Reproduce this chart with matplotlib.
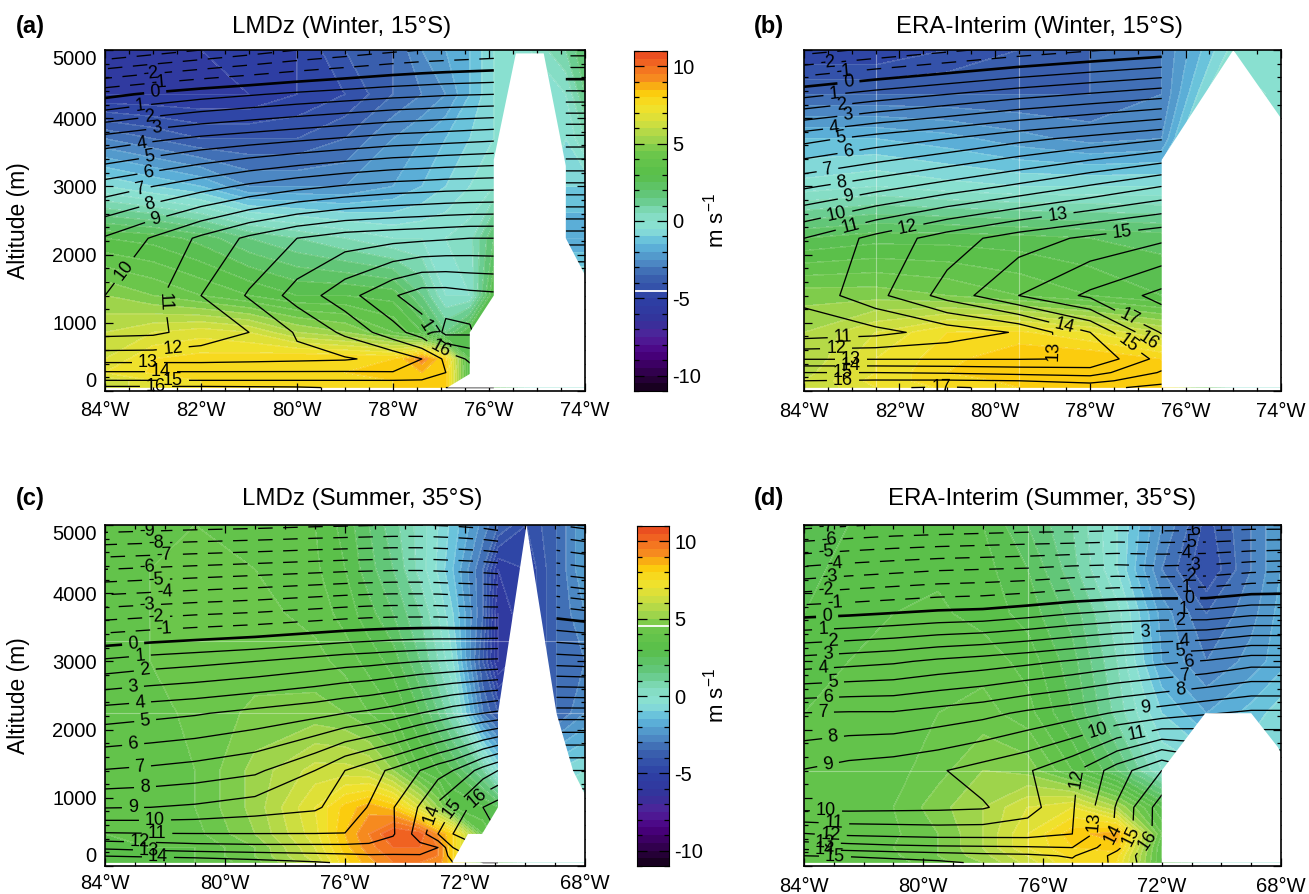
import matplotlib
matplotlib.use('Agg')
import matplotlib.pyplot as plt
from matplotlib.colors import LinearSegmentedColormap
from matplotlib.ticker import MultipleLocator
import numpy as np

plt.rcParams['font.family'] = ['Liberation Sans', 'DejaVu Sans']
plt.rcParams['axes.unicode_minus'] = False
plt.rcParams['mathtext.default'] = 'regular'

W, H = 1309, 894
n = np.nan

# altitude rows shared by all panels (m)
ALT = [50, 150, 270, 470, 860, 1400, 2240, 3000, 3700, 4350, 5000]

# panel (a)
lon_a = [84, 83, 82, 81, 80, 79, 78, 77.4, 76.9, 76.4, 75.9, 75.15, 74.4, 74]
temp_a = [
    [16.2, 16.2, 16.2, 16.15, 16.1, 15.9, 15.7, 15.4, 15, 15, 15, n, 15, 15],
    [15.05, 15.05, 15.05, 15.05, 15.05, 15.05, 15.05, 15.05, 15.3, 15.5, 15.5, n, 15, 15],
    [14.1, 14.1, 14.1, 14.1, 14.1, 14.1, 14.05, 14.6, 15, 15.5, 15.5, n, 16, 16],
    [12.6, 12.6, 12.6, 12.7, 12.8, 12.9, 13.3, 14, 15.2, 16.2, 16.5, n, 16, 16],
    [10.7, 10.8, 11.4, 12, 13.1, 14.2, 15.6, 16.5, 18.3, 18.2, 16.5, n, 17, 17],
    [10, 10.7, 12, 13.1, 14.4, 15.6, 16.9, 17.5, 17.5, 17.3, 17.2, n, 17, 17],
    [9.1, 10.1, 11.2, 12.2, 13, 13.5, 13.7, 13.8, 13.9, 14, 14, n, 13.6, 13.6],
    [6.45, 7, 7.6, 8.2, 8.7, 9.1, 9.4, 9.5, 9.6, 9.65, 9.7, n, 9.3, 9.3],
    [3.35, 3.8, 4.2, 4.5, 4.8, 5.1, 5.4, 5.5, 5.6, 5.7, 5.8, n, 5.3, 5.3],
    [-0.3, 0.2, 0.6, 0.9, 1.2, 1.45, 1.7, 1.8, 1.9, 1.95, 2, n, 1.3, 1.3],
    [-5, -4.5, -4, -3.5, -3, -2.6, -2.2, -2, -1.9, -1.8, -1.7, n, -2.5, -2.5],
]
wind_a = [
    [6, 7, 7.5, 7.7, 7.8, 7.8, 8, 8.2, 8.3, 3, 3, 0, 0, 0],
    [6, 7, 7.5, 7.7, 7.8, 7.8, 8, 8.2, 8.3, 3, 3, 0, 0, 0],
    [7, 7.6, 7.8, 8, 8, 8, 8.1, 8.5, 8.3, 3, 3, 0, 0, 0],
    [6.5, 7.5, 7.7, 7.8, 8, 8, 8, 9.3, 8, 3, 3, 0, 0, 0],
    [6, 6.5, 6.8, 6.5, 5.5, 5, 4, 3, 1.5, 3, 3, 0, 0, 0],
    [5, 4.5, 4, 3.5, 3, 3, 2.8, 1.5, 0, 0, 3, 0, 0, 0],
    [3, 2.8, 2.3, 1.5, 1, 0.5, 0, 0, 0, 0.3, 2, 0, -2, -2],
    [-0.5, -1, -1.5, -2.5, -2.5, -2.5, -2, -1.5, -1, -0.5, 0, 0, -1, -1],
    [-3, -3.5, -4, -4, -4, -3.5, -2.5, -2, -1.5, -1, -0.5, 0, -0.5, 0.5],
    [-5.5, -5.5, -5.5, -5.5, -5, -4.5, -3.5, -3, -2.5, -1.5, -0.5, -0.3, 0, 1.5],
    [-5.5, -5.5, -5.5, -5, -5, -4, -3.5, -2.5, -2, -1.5, -0.5, 0, 1, 2],
]
terrain_lon_a = [76.87, 76.4, 76.4, 75.9, 75.9, 75.44, 74.86, 74.4, 74.4, 74, 74]
terrain_alt_a = [50, 250, 860, 1400, 3390, 4950, 4950, 3300, 2240, 1700, 50]

# panel (b)
lon_b = [84, 82.5, 81, 79.5, 78, 76.5, 75, 74]
temp_b = [
    [16.7, 16.9, 17.1, 16.8, 16.6, 17.4, n, n],
    [16, 16.1, 16.1, 16, 15.7, 16.6, n, n],
    [15, 15, 14.9, 14.7, 14.55, 16.1, n, n],
    [12.95, 12.95, 12.95, 12.95, 13.05, 15.4, n, n],
    [10.4, 10.7, 11.4, 12.1, 14, 17.1, n, n],
    [11.3, 12.7, 14.4, 16, 17.2, 18.3, n, n],
    [11, 12.3, 13.5, 14.5, 15.2, 15.8, n, n],
    [7.85, 8.6, 9.4, 10.2, 11.1, 12, n, n],
    [4.65, 5.4, 6, 6.7, 7.3, 7.9, n, n],
    [0.7, 1.4, 2, 2.6, 3.1, 3.6, n, n],
    [-3.4, -2.8, -2.2, -1.6, -1.1, -0.65, n, n],
]
wind_b = [
    [6, 7, 7.6, 8, 8.2, 8.4, 0, 0],
    [6, 7.2, 7.8, 8.1, 8.2, 8.5, 0, 0],
    [5.8, 7, 8, 8.2, 8.3, 8.5, 0, 0],
    [5.5, 7, 7.8, 8.5, 8.5, 8, 0, 0],
    [5.5, 6.5, 7.5, 7.6, 7, 6, 0, 0],
    [4.8, 4.8, 4.5, 4, 3.5, 3, 0, 0],
    [2.5, 2.8, 2.8, 2.7, 2.5, 2.3, 0, 0],
    [-0.3, 0, -0.3, -0.5, -0.5, -0.5, 3, 0],
    [-1.5, -1.5, -1.8, -2.3, -2.7, -2.5, 3, -0.5],
    [-3.5, -3.5, -3.5, -3.5, -3.5, -3, 1, -0.5],
    [-5, -5, -4.5, -4, -3.5, -3, -0.3, -0.5],
]
terrain_lon_b = [76.5, 76.5, 75, 74, 74]
terrain_alt_b = [50, 3390, 5000, 4000, 50]

# panel (c)
lon_c = [84, 82.5, 81, 79, 77, 76, 75.2, 74.4, 73.5, 72.9, 72.4, 71.4, 70.9, 69.95, 68.95, 68]
temp_c = [
    [15, 14.9, 14.7, 14.4, 14.1, 13.9, 13.8, 13.7, 13.6, 13.5, 14, 15, 15, n, 15, 15],
    [13.95, 13.8, 13.7, 13.5, 13.3, 13.2, 13.1, 13.1, 13.05, 13.05, 14.5, 15.5, 15.5, n, 15, 15],
    [12.8, 12.6, 12.4, 12.3, 12.3, 12.3, 12.4, 12.5, 12.7, 13, 15, 16, 16, n, 15, 15],
    [11.1, 11.05, 11.03, 11.02, 11.02, 11.02, 11.1, 11.9, 13.5, 15, 16, 17, 17, n, 15, 15],
    [8.95, 9, 9.15, 9.5, 9.85, 10.5, 11.05, 11.95, 13.1, 14.25, 15, 17, 17.5, n, 15, 15],
    [7.05, 7.2, 7.4, 7.8, 9, 10, 10.6, 11.2, 12, 12.6, 13, 14.4, 15, n, 13, 13],
    [4.5, 4.7, 4.9, 5.3, 5.7, 6, 6.2, 6.5, 7, 7.3, 7.6, 8, 8.2, n, 8.5, 8.5],
    [1.2, 1.5, 1.7, 2, 2.4, 2.6, 2.7, 2.85, 3, 3.05, 3.1, 3.2, 3.25, n, 3.6, 3.5],
    [-2.5, -2.3, -2.1, -1.9, -1.6, -1.45, -1.35, -1.3, -1.3, -1.3, -1.35, -1.4, -1.4, n, -0.4, -0.7],
    [-6, -5.85, -5.7, -5.5, -5.3, -5.2, -5.15, -5.1, -5.1, -5.15, -5.2, -5.3, -5.4, n, -4.5, -4.8],
    [-9.6, -9.5, -9.4, -9.3, -9.15, -9.1, -9.05, -9, -9, -9.05, -9.1, -9.3, -9.5, n, -8, -8.3],
]
wind_c = [
    [3.5, 3.5, 3.5, 4.3, 6, 7.8, 8.8, 9.5, 9.5, 9.3, 8, 4, 3, 0, 0, 0],
    [3.5, 3.5, 3.5, 4.5, 6.3, 8, 9, 9.7, 9.8, 9.5, 8, 4, 3, 0, 0, 0],
    [3.5, 3.5, 3.5, 4.5, 6.5, 8.3, 9.3, 10, 10, 9.5, 8, 4, 3, 0, 0, 0],
    [3.5, 3.6, 3.8, 5, 6.8, 8.5, 9.5, 10.5, 10.3, 9, 8, 4, 3, 0, 0, 0],
    [3.5, 3.6, 4, 5.2, 7, 8.2, 8.8, 8.3, 6.5, 5, 3.5, 3, 2.5, 0, 0, 0],
    [3.5, 3.6, 4, 5.2, 6.2, 6.2, 6, 5, 3.5, 3, 2.5, 1, -0.5, -1, -1, -0.5],
    [3.5, 3.7, 4.2, 4.6, 4.7, 4.5, 4, 3.5, 2.5, 1.5, 0.5, -3, -4, -4, -3.5, -2.5],
    [3.5, 4, 4.2, 4.3, 4.2, 3.8, 3.3, 2.8, 1.5, 0.5, -0.5, -4, -6, -5, -3.5, -3],
    [3.7, 4, 4.2, 4.2, 3.8, 3.3, 2.7, 2, 1, 0, -1, -3.5, -6, -5, -3.5, -2.5],
    [3.7, 4, 4.2, 4, 3.6, 3, 2.2, 1.5, 0.3, -0.6, -1.5, -3.5, -5.5, -5, -3.5, -2],
    [4, 4, 4, 4, 3.5, 2.8, 2, 1.2, 0.3, -0.5, -1.2, -2.7, -3.5, -4.5, -3.5, -2],
]
terrain_lon_c = [72.43, 71.9, 71.43, 70.9, 70.9, 69.95, 68.95, 68.4, 68, 68]
terrain_alt_c = [50, 470, 470, 860, 2240, 5000, 2240, 1400, 1050, 50]

# panel (d)
lon_d = [84, 82.5, 81, 79.5, 78, 76.5, 75, 73.5, 72, 70.5, 69, 68]
temp_d = [
    [15.8, 15.6, 15.4, 15.2, 14.85, 14.5, 14.2, 15.2, 17, 17, 17, 17],
    [15, 14.9, 14.7, 14.5, 14.3, 14.2, 13.9, 15.3, 17, 17, 17, 17],
    [13.7, 13.5, 13.3, 13.2, 13.15, 13.1, 13, 14.8, 17, 17, 17, 17],
    [12.05, 11.8, 11.7, 11.6, 11.6, 11.6, 12, 14.2, 16.5, 16.5, 16, 16],
    [9.7, 9.7, 9.75, 9.8, 9.9, 10.6, 11.9, 14.1, 16.5, 16, 15, 15],
    [9.05, 9.4, 9.6, 9.9, 10.4, 10.9, 11.8, 13.5, 15, 14, 13, 13],
    [7.03, 7.1, 7.1, 7.4, 7.7, 8.2, 8.6, 9.1, 9.5, 9.9, 10.2, 10.2],
    [3.45, 3.65, 3.85, 4.2, 4.45, 4.75, 5.1, 5.5, 5.8, 6.1, 6.6, 6.6],
    [-0.3, -0.15, 0.05, 0.25, 0.35, 0.65, 1, 1.25, 1.4, 1.4, 1.8, 1.8],
    [-3.75, -3.5, -3.3, -3.1, -3, -2.9, -2.7, -2.6, -2.7, -2.6, -2.3, -2.2],
    [-7.3, -7.1, -6.9, -6.8, -6.7, -6.6, -6.6, -6.5, -6.5, -6.5, -6.4, -6.4],
]
wind_d = [
    [3.5, 3.6, 3.8, 4.3, 5, 6.2, 7.5, 7.5, 3.5, 0, 0, 0],
    [3.5, 3.7, 3.9, 4.5, 5.3, 6.5, 7.7, 7.7, 3.5, 0, 0, 0],
    [3.6, 3.8, 4, 4.5, 5.5, 7, 8, 8.3, 3.5, 0, 0, 0],
    [3.5, 3.6, 3.9, 4.5, 5.5, 7, 8.3, 8.8, 4, 0, 0, 0],
    [3.5, 3.6, 4, 4.8, 5.5, 6.5, 7, 5.5, 3, 0, 0, 0],
    [3.5, 3.6, 3.8, 4.3, 5, 4.8, 3.5, 2, 0, -0.5, -0.5, -0.5],
    [3.5, 3.6, 3.8, 4, 4.2, 3.7, 2.5, 0.8, -1, -2, -1.3, -0.7],
    [3.2, 3.5, 3.7, 3.8, 3.8, 3.3, 2.2, 0.5, -2, -3, -2.3, -1.7],
    [3, 3.3, 3.5, 3.6, 3.3, 2.8, 1.8, 0.2, -2.2, -3.5, -2.7, -1.8],
    [2.8, 3.2, 3.4, 3.4, 3.2, 2.5, 1.2, -0.5, -3, -4.5, -3, -2],
    [3, 3, 3.2, 3.2, 3, 2, 1, -0.5, -2.5, -4.2, -3, -2],
]
terrain_lon_d = [72, 72, 70.54, 69, 68.1, 68, 68]
terrain_alt_d = [50, 1400, 2240, 2240, 1740, 1650, 50]

# colour scale of the wind
wind_levels = np.arange(-11, 11.5, 0.5)
wind_colors = [
    (-11, '#140018'), (-9.5, '#38005a'), (-8.5, '#4b0082'), (-7.5, '#50229a'),
    (-6.5, '#33339a'), (-5, '#2d41a5'), (-3.5, '#3c64af'), (-2.5, '#5091c8'),
    (-1.5, '#5fb9dc'), (-0.5, '#8ce1d7'), (0.5, '#82dcbe'), (1.5, '#64c882'),
    (3, '#58be4a'), (4.5, '#6ec84b'), (5.5, '#aad74b'), (6.5, '#d7e03c'),
    (7.5, '#f5e128'), (8.5, '#fcc808'), (9, '#f7941e'), (10, '#f36e21'),
    (11, '#e84820'),
]
wind_cmap = LinearSegmentedColormap.from_list(
    'wind', [((v + 11) / 22, c) for v, c in wind_colors], N=256)
temp_levels = list(range(-9, 19))

# contour labels: level and spot on the page, in pixels
labels_a = [(-2, 150, 66), (-1, 158, 78), (0, 155, 90), (1, 140, 104), (2, 149, 115),
            (3, 157, 127), (4, 141, 140), (5, 149, 152), (6, 147, 164), (7, 139, 185),
            (8, 149, 201), (9, 155, 217), (10, 124, 270), (11, 165, 302), (12, 173, 351),
            (13, 148, 364), (14, 161, 371), (15, 173, 378), (16, 156, 386), (17, 424, 331),
            (16, 440, 351)]
labels_b = [(-2, 827, 56), (-1, 843, 65), (0, 848, 78), (1, 834, 91), (2, 841, 102),
            (3, 848, 113), (4, 834, 128), (5, 841, 138), (6, 848, 149), (7, 827, 167),
            (8, 841, 179), (9, 848, 193), (10, 836, 212), (11, 850, 224), (12, 907, 224),
            (13, 1057, 210), (15, 1122, 229), (17, 1130, 316), (16, 1148, 342), (15, 1128, 344),
            (14, 1065, 325), (13, 1079, 349), (11, 843, 336), (12, 836, 346), (13, 851, 356),
            (14, 851, 366), (15, 843, 372), (16, 843, 380), (17, 941, 385)]
labels_c = [(-9, 147, 531), (-8, 156, 543), (-7, 164, 555), (-6, 147, 567), (-5, 156, 580),
            (-4, 165, 591), (-3, 147, 603), (-2, 156, 616), (-1, 164, 628), (0, 133, 642),
            (1, 140, 657), (2, 145, 672), (3, 133, 687), (4, 140, 702), (5, 145, 719),
            (6, 133, 743), (7, 140, 766), (8, 145, 787), (9, 133, 807), (10, 155, 820),
            (11, 157, 835), (12, 140, 840), (13, 149, 848), (14, 158, 855), (14, 431, 814),
            (15, 452, 808), (16, 477, 798)]
labels_d = [(-7, 826, 529), (-6, 829, 542), (-5, 826, 555), (-4, 835, 566), (-3, 830, 578),
            (-2, 826, 591), (-1, 835, 603), (0, 827, 614), (1, 823, 628), (2, 833, 639),
            (3, 828, 654), (4, 823, 669), (5, 833, 682), (6, 828, 696), (7, 823, 711),
            (8, 833, 737), (9, 828, 764), (10, 826, 810), (11, 834, 821), (12, 831, 830),
            (13, 825, 839), (14, 825, 847), (15, 835, 856), (-6, 1193, 534), (-5, 1189, 545),
            (-4, 1184, 555), (-3, 1193, 564), (-2, 1189, 575), (-1, 1184, 586), (0, 1189, 596),
            (1, 1184, 608), (2, 1180, 618), (3, 1145, 629), (4, 1184, 639), (5, 1180, 652),
            (6, 1189, 661), (7, 1184, 674), (8, 1180, 686), (9, 1145, 705), (10, 1097, 727),
            (11, 1137, 735), (12, 1079, 779), (13, 1114, 823), (14, 1128, 838), (15, 1137, 841),
            (16, 1148, 841)]


def add_axes_px(fig, left, top, right, bottom):
    """Axes placed by picture pixels, y counted from the top"""
    return fig.add_axes([left / W, 1 - bottom / H, (right - left) / W, (bottom - top) / H])


def draw_panel(fig, box, lon, temp, wind, terrain_lon, terrain_alt, labels, title, title_pos, letter,
               xticks, minor, show_y=False, pad=8, vlines=(), hlines=()):
    ax = add_axes_px(fig, *box)
    ax.set_xlim(lon[0], lon[-1])
    ax.set_ylim(0, 5000)

    filled = ax.contourf(lon, ALT, np.array(wind), levels=wind_levels, cmap=wind_cmap, zorder=1)
    filled.set_edgecolor((1, 1, 1, 0.12))
    filled.set_linewidth(0.3)

    # pale seams of the source picture
    for v in vlines:
        ax.plot([v, v], [50, 5000], color='white', alpha=0.4, lw=0.8, zorder=1.5)
    for h in hlines:
        ax.plot([lon[0], lon[-1]], [h, h], color='white', alpha=0.35, lw=0.8, zorder=1.5)

    # one contour set per level so a label lands on the right line
    to_data = ax.transData.inverted()
    temp_grid = np.array(temp)
    for level in temp_levels:
        if not np.nanmin(temp_grid) < level < np.nanmax(temp_grid):
            continue
        lines = ax.contour(lon, ALT, temp_grid, levels=[level], colors='black',
                           linewidths=1.9 if level == 0 else 0.95,
                           linestyles=[(0, (11, 8))] if level < 0 else 'solid',
                           corner_mask=False, zorder=2)
        spots = [tuple(to_data.transform((px, H - py))) for lv, px, py in labels if lv == level]
        if spots:
            lines.clabel(manual=spots, fmt='%d', fontsize=13, colors='black',
                         inline=True, inline_spacing=6)

    ax.fill(terrain_lon, terrain_alt, color='white', lw=0, zorder=3)

    ax.set_xticks(xticks)
    ax.set_xticklabels([f'{t}°W' for t in xticks], fontsize=14.5)
    ax.xaxis.set_minor_locator(MultipleLocator(minor))
    ax.set_yticks(range(0, 5001, 1000))
    ax.yaxis.set_minor_locator(MultipleLocator(200))
    ax.tick_params(which='major', direction='in', top=True, right=True, length=6, width=0.9, pad=pad)
    ax.tick_params(which='minor', direction='in', top=True, right=True, length=3, width=0.9)
    ax.tick_params(axis='y', labelsize=14.5, pad=6)
    if show_y:
        ax.set_ylabel('Altitude (m)', fontsize=16.5)
        ax.yaxis.set_label_coords((30 - box[0]) / (box[2] - box[0]), 0.5)
        ticks = ax.get_yticklabels()
        ticks[0].set_verticalalignment('bottom')
        ticks[-1].set_verticalalignment('top')
    else:
        ax.set_yticklabels([])
    for spine in ax.spines.values():
        spine.set_linewidth(1.2)
        spine.set_zorder(5)

    fig.text(title_pos[0] / W, 1 - title_pos[1] / H, title, fontsize=17.3, ha='center', va='center')
    fig.text(letter[0] / W, 1 - title_pos[1] / H, letter[1], fontsize=17, fontweight='bold',
             ha='left', va='center')
    return ax


def draw_colorbar(fig, box, seam):
    cax = add_axes_px(fig, *box)
    mids = (wind_levels[:-1] + wind_levels[1:]) / 2
    cax.pcolormesh([0, 1], wind_levels, mids.reshape(-1, 1), cmap=wind_cmap, vmin=-11, vmax=11)
    cax.axhline(seam, color='white', lw=1.3)
    cax.set_xticks([])
    cax.set_ylim(-11, 11)
    cax.set_yticks([-10, -5, 0, 5, 10])
    cax.yaxis.set_minor_locator(MultipleLocator(1))
    cax.yaxis.tick_right()
    cax.tick_params(which='major', direction='in', left=True, right=True, length=7, width=0.9,
                    labelsize=14.5, pad=4)
    cax.tick_params(which='minor', direction='in', left=True, right=True, length=3.5, width=0.9)
    fig.text(716 / W, 1 - (box[1] + 170) / H, 'm s$^{-1}$', fontsize=16, rotation=90,
             ha='center', va='center')


fig = plt.figure(figsize=(W / 100, H / 100), dpi=100)

draw_panel(fig, (105, 50, 585, 391), lon_a, temp_a, wind_a, terrain_lon_a, terrain_alt_a, labels_a,
           'LMDz (Winter, 15°S)', (342, 27), (16, '(a)'), [84, 82, 80, 78, 76, 74], 0.5,
           show_y=True, pad=7)
draw_panel(fig, (804, 50, 1281, 391), lon_b, temp_b, wind_b, terrain_lon_b, terrain_alt_b, labels_b,
           'ERA-Interim (Winter, 15°S)', (1039, 27), (754, '(b)'), [84, 82, 80, 78, 76, 74], 0.5,
           pad=8, vlines=[82.5, 79.5])
draw_panel(fig, (105, 525, 585, 866), lon_c, temp_c, wind_c, terrain_lon_c, terrain_alt_c, labels_c,
           'LMDz (Summer, 35°S)', (362, 499), (16, '(c)'), [84, 80, 76, 72, 68], 1,
           show_y=True, pad=5.5, hlines=[2240, 3300])
draw_panel(fig, (804, 525, 1281, 866), lon_d, temp_d, wind_d, terrain_lon_d, terrain_alt_d, labels_d,
           'ERA-Interim (Summer, 35°S)', (1042, 499), (754, '(d)'), [84, 80, 76, 72, 68], 1,
           pad=8, vlines=[76.5], hlines=[1400])

draw_colorbar(fig, (634, 51, 667, 391), -4.5)
draw_colorbar(fig, (637, 526, 669, 866), 4.5)

fig.savefig('out.png', dpi=100)
